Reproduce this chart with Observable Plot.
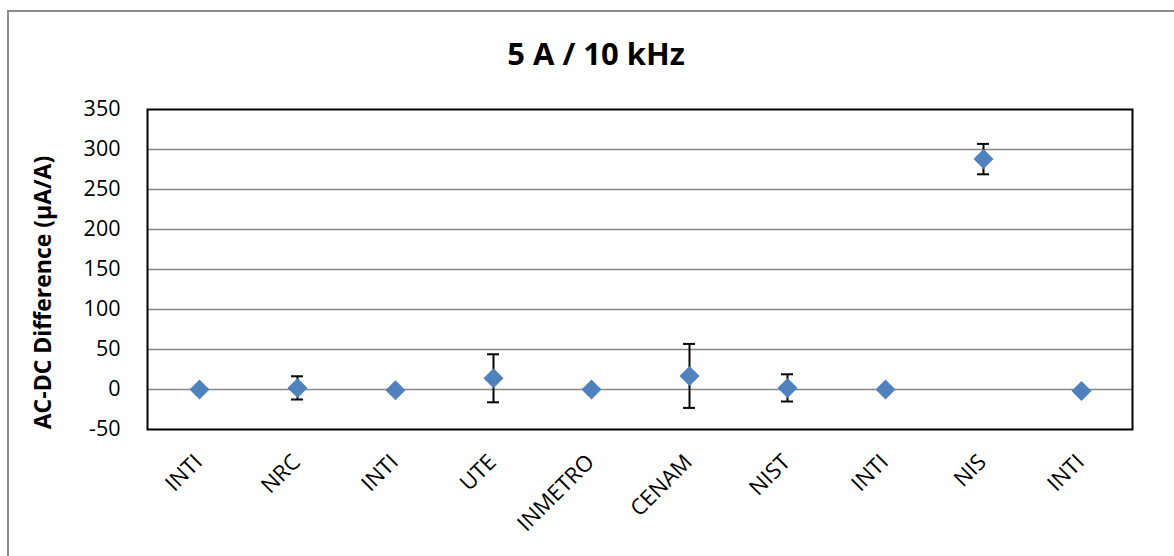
<!DOCTYPE html>
<html>
<head>
<meta charset="utf-8">
<script src="https://cdn.jsdelivr.net/npm/d3@7"></script>
<script src="https://cdn.jsdelivr.net/npm/@observablehq/plot@0.6"></script>
<style>
  html, body { margin: 0; padding: 0; background: #fff; }
  #wrap { position: relative; width: 1174px; height: 556px; overflow: hidden; font-family: "Open Sans", sans-serif; }
  #border { position: absolute; left: 7px; top: 10px; width: 2000px; height: 2000px; border: 2px solid #8c8c8c; box-sizing: border-box; }
  #title { position: absolute; left: 0; top: 33px; width: 1192px; text-align: center; font-size: 31px; font-weight: bold; line-height: 40px; color: #000; }
  #chart { position: absolute; left: 0; top: 0; }
</style>
</head>
<body>
<div id="wrap">
  <div id="border"></div>
  <div id="chart"></div>
  <div id="title">5 A / 10 kHz</div>
</div>
<script>
const labs = ["INTI", "NRC", "INTI", "UTE", "INMETRO", "CENAM", "NIST", "INTI", "NIS", "INTI"];
const vals = [0, 2, -1, 14, 0, 17, 2, 0, 288, -2];
const errs = [1, 14.5, 1, 30, 1, 40, 17, 1, 19, 1];
const yTicks = [-50, 0, 50, 100, 150, 200, 250, 300, 350];
const yLabel = "AC-DC Difference (µA/A)";

const data = labs.map((l, i) => ({i, lab: l, v: vals[i], lo: vals[i] - errs[i], hi: vals[i] + errs[i]}));

const plot = Plot.plot({
  width: 1174,
  height: 556,
  marginLeft: 147,
  marginRight: 42,
  marginTop: 109,
  marginBottom: 127,
  style: {fontFamily: "Open Sans, sans-serif", fontSize: "22px", color: "#000", background: "transparent"},
  x: {type: "band", domain: d3.range(labs.length), padding: 0},
  y: {domain: [-50, 350]},
  marks: [
    Plot.gridY(yTicks.filter(t => t > -50 && t < 350), {stroke: "#868686", strokeOpacity: 1, strokeWidth: 1.5}),
    Plot.axisY({ticks: yTicks, tickSize: 0, tickPadding: 27, fontSize: 21.5, tickFormat: d => String(d), label: null}),
    Plot.axisX({tickRotate: -45, tickSize: 0, tickPadding: 29, dx: -1, fontSize: 22, tickFormat: i => labs[i], label: null}),
    Plot.text([yLabel], {frameAnchor: "left", textAnchor: "middle", rotate: -90, dx: -104, dy: 23, fontWeight: "bold", fontSize: 23, fill: "#000"}),
    Plot.ruleX(data, {x: "i", y1: "lo", y2: "hi", stroke: "#000", strokeWidth: 2}),
    Plot.tickY(data, {x: "i", y: "lo", stroke: "#000", strokeWidth: 2, insetLeft: 43, insetRight: 43}),
    Plot.tickY(data, {x: "i", y: "hi", stroke: "#000", strokeWidth: 2, insetLeft: 43, insetRight: 43}),
    Plot.dot(data, {x: "i", y: "v", symbol: "diamond2", r: 9, fill: "#4F81BD", stroke: "none"}),
    Plot.frame({stroke: "#000", strokeWidth: 2})
  ]
});
document.getElementById("chart").appendChild(plot);
</script>
</body>
</html>
